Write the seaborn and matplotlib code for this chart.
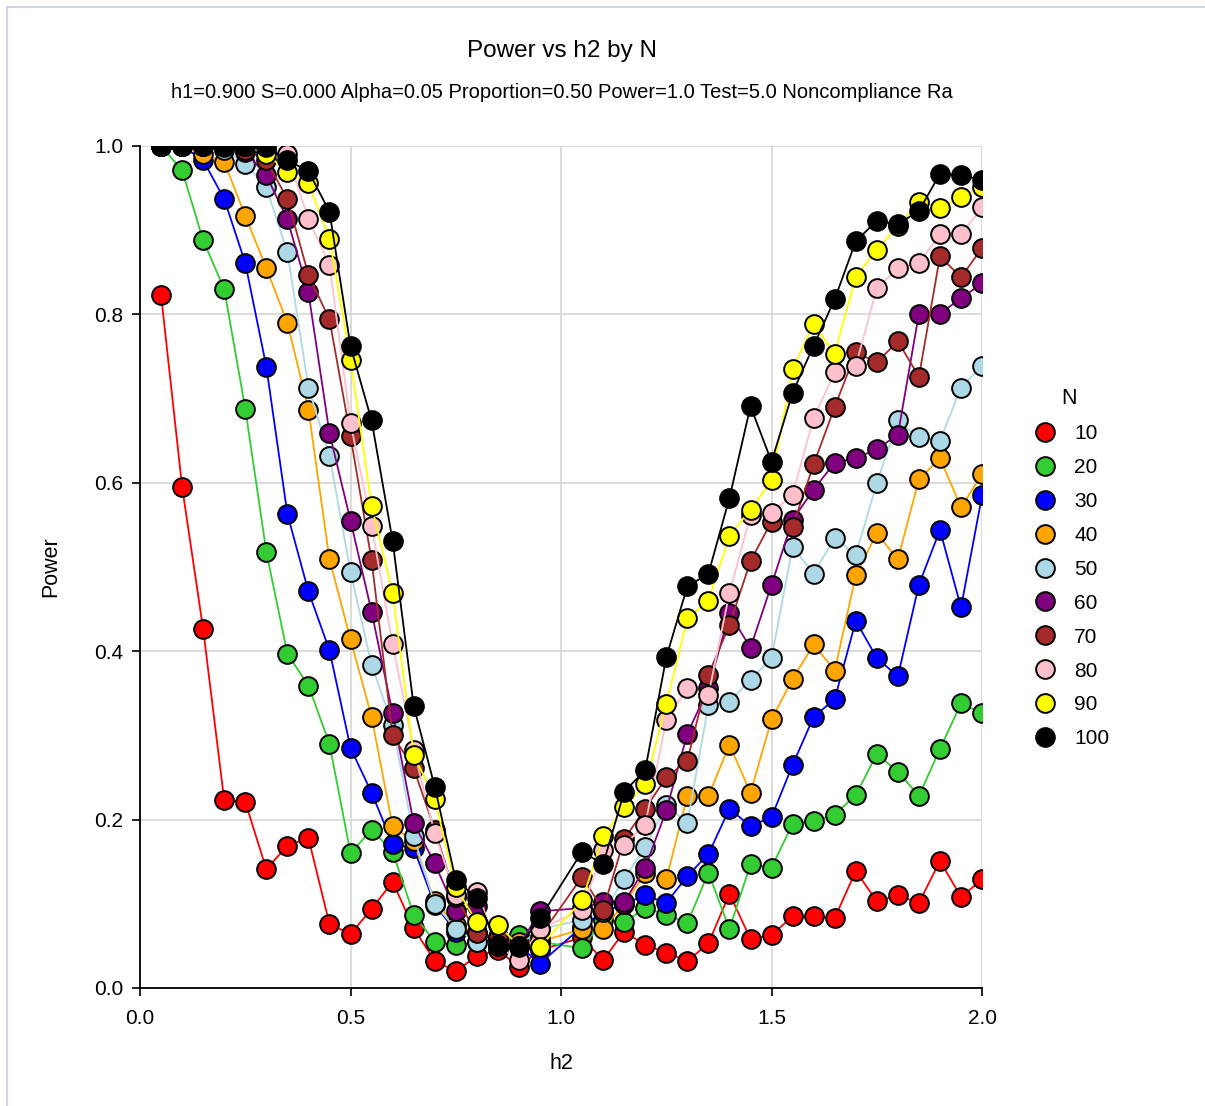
import numpy as np
import pandas as pd
import matplotlib
matplotlib.use("Agg")
import matplotlib.pyplot as plt
from matplotlib.lines import Line2D
import seaborn as sns

# h2 values (h2 = 1.0 is not plotted)
h2 = [0.05, 0.10, 0.15, 0.20, 0.25, 0.30, 0.35, 0.40, 0.45, 0.50,
      0.55, 0.60, 0.65, 0.70, 0.75, 0.80, 0.85, 0.90, 0.95,
      1.05, 1.10, 1.15, 1.20, 1.25, 1.30, 1.35, 1.40, 1.45, 1.50,
      1.55, 1.60, 1.65, 1.70, 1.75, 1.80, 1.85, 1.90, 1.95, 2.00]

n_levels = [10, 20, 30, 40, 50, 60, 70, 80, 90, 100]

power_n10 = [0.823, 0.595, 0.426, 0.223, 0.221, 0.141, 0.169, 0.178, 0.076, 0.064,
             0.094, 0.126, 0.071, 0.032, 0.020, 0.038, 0.045, 0.025, 0.045,
             0.060, 0.033, 0.067, 0.051, 0.042, 0.032, 0.053, 0.112, 0.058, 0.063,
             0.085, 0.085, 0.083, 0.139, 0.103, 0.110, 0.101, 0.151, 0.108, 0.129]
power_n20 = [1.000, 0.971, 0.888, 0.830, 0.688, 0.518, 0.397, 0.359, 0.290, 0.160,
             0.188, 0.162, 0.087, 0.055, 0.051, 0.055, 0.050, 0.063, 0.055,
             0.047, 0.081, 0.078, 0.095, 0.087, 0.077, 0.137, 0.070, 0.147, 0.143,
             0.195, 0.198, 0.206, 0.229, 0.278, 0.257, 0.228, 0.284, 0.338, 0.326]
power_n30 = [1.000, 1.000, 0.983, 0.937, 0.861, 0.738, 0.563, 0.471, 0.401, 0.285,
             0.232, 0.171, 0.166, 0.099, 0.067, 0.065, 0.055, 0.050, 0.029,
             0.073, 0.090, 0.100, 0.110, 0.101, 0.133, 0.159, 0.213, 0.192, 0.203,
             0.265, 0.322, 0.343, 0.436, 0.392, 0.370, 0.479, 0.544, 0.452, 0.585]
power_n40 = [1.000, 1.000, 0.990, 0.981, 0.917, 0.855, 0.790, 0.687, 0.509, 0.414,
             0.322, 0.192, 0.174, 0.103, 0.075, 0.065, 0.060, 0.055, 0.055,
             0.070, 0.070, 0.100, 0.136, 0.129, 0.228, 0.228, 0.289, 0.232, 0.319,
             0.367, 0.408, 0.377, 0.490, 0.540, 0.509, 0.604, 0.629, 0.571, 0.610]
power_n50 = [1.000, 1.000, 1.000, 0.995, 0.979, 0.951, 0.874, 0.713, 0.632, 0.494,
             0.384, 0.312, 0.180, 0.100, 0.070, 0.055, 0.050, 0.050, 0.070,
             0.081, 0.090, 0.130, 0.167, 0.217, 0.196, 0.336, 0.340, 0.366, 0.392,
             0.524, 0.492, 0.535, 0.514, 0.600, 0.674, 0.654, 0.650, 0.713, 0.739]
power_n60 = [1.000, 1.000, 1.000, 0.999, 0.993, 0.965, 0.913, 0.826, 0.659, 0.555,
             0.447, 0.326, 0.196, 0.148, 0.091, 0.097, 0.060, 0.050, 0.091,
             0.095, 0.102, 0.102, 0.143, 0.211, 0.302, 0.356, 0.445, 0.404, 0.479,
             0.556, 0.592, 0.624, 0.629, 0.640, 0.657, 0.801, 0.801, 0.819, 0.837]
power_n70 = [1.000, 1.000, 1.000, 1.000, 0.995, 0.983, 0.937, 0.847, 0.794, 0.655,
             0.508, 0.300, 0.261, 0.188, 0.108, 0.065, 0.059, 0.050, 0.061,
             0.132, 0.093, 0.177, 0.213, 0.250, 0.270, 0.372, 0.431, 0.507, 0.554,
             0.548, 0.622, 0.690, 0.755, 0.743, 0.768, 0.726, 0.869, 0.844, 0.879]
power_n80 = [1.000, 1.000, 1.000, 1.000, 1.000, 0.995, 0.990, 0.913, 0.859, 0.671,
             0.549, 0.408, 0.283, 0.184, 0.110, 0.114, 0.050, 0.033, 0.070,
             0.093, 0.164, 0.170, 0.194, 0.318, 0.356, 0.348, 0.469, 0.562, 0.564,
             0.586, 0.677, 0.731, 0.739, 0.831, 0.855, 0.861, 0.895, 0.895, 0.927]
power_n90 = [1.000, 1.000, 1.000, 1.000, 1.000, 0.991, 0.969, 0.956, 0.890, 0.746,
             0.573, 0.469, 0.277, 0.225, 0.120, 0.078, 0.075, 0.050, 0.049,
             0.104, 0.180, 0.215, 0.242, 0.337, 0.439, 0.460, 0.537, 0.568, 0.603,
             0.735, 0.789, 0.753, 0.845, 0.877, 0.905, 0.934, 0.926, 0.940, 0.951]
power_n100 = [1.000, 1.000, 1.000, 1.000, 1.000, 0.999, 0.983, 0.970, 0.922, 0.762,
              0.674, 0.531, 0.335, 0.239, 0.128, 0.107, 0.051, 0.049, 0.083,
              0.162, 0.147, 0.233, 0.259, 0.393, 0.477, 0.492, 0.582, 0.691, 0.625,
              0.707, 0.763, 0.818, 0.887, 0.911, 0.907, 0.923, 0.967, 0.965, 0.960]

series = [power_n10, power_n20, power_n30, power_n40, power_n50,
          power_n60, power_n70, power_n80, power_n90, power_n100]
colors = ["#ff0000", "#33cc33", "#0000ff", "#ffa500", "#add8e6",
          "#800080", "#a52a2a", "#ffc0cb", "#ffff00", "#000000"]

rows = []
for n, vals in zip(n_levels, series):
    for x, y in zip(h2, vals):
        rows.append({"h2": x, "Power": y, "N": str(n)})
df = pd.DataFrame(rows)

sns.set_theme(style="whitegrid")
plt.rcParams["font.family"] = ["Liberation Sans", "DejaVu Sans"]
plt.rcParams["text.color"] = "black"
plt.rcParams["axes.labelcolor"] = "black"
plt.rcParams["xtick.color"] = "black"
plt.rcParams["ytick.color"] = "black"

fig = plt.figure(figsize=(12.05, 11.06), dpi=100)
ax = fig.add_axes([0.1162, 0.1067, 0.815 - 0.1162, 0.868 - 0.1067])

palette = dict(zip([str(n) for n in n_levels], colors))
sns.lineplot(data=df, x="h2", y="Power", hue="N", palette=palette,
             hue_order=[str(n) for n in n_levels],
             marker="o", markersize=13.5, markeredgecolor="black",
             markeredgewidth=1.4, linewidth=1.3, estimator=None,
             sort=False, ax=ax, legend=True)

ax.set_xlim(0, 2.0)
ax.set_ylim(0, 1.0)
ax.set_xticks([0.0, 0.5, 1.0, 1.5, 2.0])
ax.set_yticks([0.0, 0.2, 0.4, 0.6, 0.8, 1.0])
ax.set_xticklabels(["0.0", "0.5", "1.0", "1.5", "2.0"])
ax.set_yticklabels(["0.0", "0.2", "0.4", "0.6", "0.8", "1.0"])
ax.tick_params(axis="both", labelsize=15, length=6, width=1.2,
               direction="out", color="black", labelcolor="black",
               bottom=True, left=True)
ax.tick_params(axis="x", pad=9)
ax.tick_params(axis="y", pad=6)
ax.grid(True, color="#d9d9d9", linewidth=1.3)
ax.set_facecolor("white")
for side in ["top", "right"]:
    ax.spines[side].set_visible(False)
for side in ["left", "bottom"]:
    ax.spines[side].set_visible(True)
    ax.spines[side].set_color("black")
    ax.spines[side].set_linewidth(1.3)

ax.set_xlabel("h2", fontsize=15.5, labelpad=18, color="black")
ax.set_ylabel("Power", fontsize=15.5, labelpad=24, color="black")

fig.text(0.466, 0.954, "Power vs h2 by N", ha="center", va="center",
         fontsize=17.5, color="black")
fig.text(0.466, 0.916,
         "h1=0.900 S=0.000 Alpha=0.05 Proportion=0.50 Power=1.0 Test=5.0 Noncompliance Ra",
         ha="center", va="center", fontsize=14.5, color="black")

new_handles = [Line2D([0], [0], marker="o", linestyle="none", markersize=13.5,
                      markerfacecolor=c, markeredgecolor="black",
                      markeredgewidth=1.4) for c in colors]
leg = ax.legend(new_handles, [str(n) for n in n_levels], title="N",
                loc="upper left", bbox_to_anchor=(1.045, 0.722), frameon=False,
                fontsize=15, title_fontsize=15.5, labelspacing=0.715,
                handletextpad=0.6, borderaxespad=0, handlelength=1.6)
for t in leg.get_texts():
    t.set_color("black")
leg.get_title().set_color("black")

# thin page border lines
fig.add_artist(Line2D([0.0058, 0.0058], [0, 0.9937], color="#c8c8f0", linewidth=1.2,
                      transform=fig.transFigure))
fig.add_artist(Line2D([0.0058, 1.0], [0.9937, 0.9937], color="#c8c8f0", linewidth=1.2,
                      transform=fig.transFigure))

fig.savefig("out.png", dpi=100, facecolor="white")
